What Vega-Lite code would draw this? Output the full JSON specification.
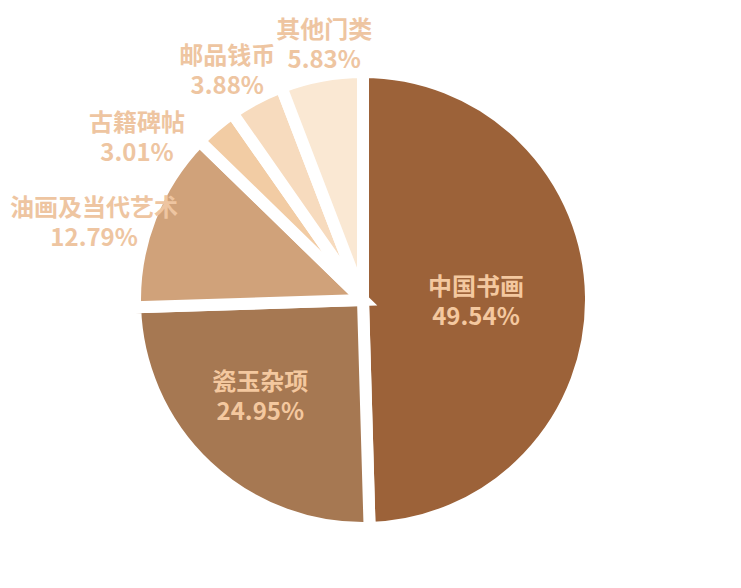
{
  "$schema": "https://vega.github.io/schema/vega-lite/v6.json",
  "width": 726,
  "height": 570,
  "autosize": "none",
  "padding": {"left": 0, "top": 15, "right": 15, "bottom": 3},
  "background": "white",
  "config": {"view": {"stroke": null}, "text": {"font": "Noto Sans CJK SC", "fontWeight": "bold", "fontSize": 24, "lineHeight": 30, "lineBreak": "\n", "align": "center", "baseline": "middle"}},
  "data": {
    "values": [
      {"category": "中国书画", "share": 49.54},
      {"category": "瓷玉杂项", "share": 24.95},
      {"category": "油画及当代艺术", "share": 12.79},
      {"category": "古籍碑帖", "share": 3.01},
      {"category": "邮品钱币", "share": 3.88},
      {"category": "其他门类", "share": 5.83}
    ]
  },
  "transform": [
    {"window": [{"op": "row_number", "as": "rank"}]},
    {"stack": "share", "groupby": [], "sort": [{"field": "rank", "order": "ascending"}], "as": ["s0", "s1"]},
    {"calculate": "(datum.s0 + datum.s1) / 2", "as": "mid"},
    {"calculate": "datum.category + '\\n' + format(datum.share, '.2f') + '%'", "as": "label"}
  ],
  "layer": [
    {
      "mark": {"type": "arc", "outerRadius": 228, "stroke": "white", "strokeWidth": 12},
      "encoding": {
        "theta": {"field": "s0", "type": "quantitative", "scale": {"domain": [0, 100]}},
        "theta2": {"field": "s1"},
        "color": {
          "field": "category",
          "type": "nominal",
          "scale": {
            "domain": ["中国书画", "瓷玉杂项", "油画及当代艺术", "古籍碑帖", "邮品钱币", "其他门类"],
            "range": ["#9C6239", "#A67852", "#D0A27A", "#F2CCA4", "#F7DBBE", "#FAE8D3"]
          },
          "legend": null
        }
      }
    },
    {
      "transform": [{"filter": "indexof(['中国书画','瓷玉杂项'], datum.category) >= 0"}],
      "mark": {"type": "text", "radius": 128, "dx": -15, "dy": -10, "color": "#F4C89F"},
      "encoding": {"theta": {"field": "mid", "type": "quantitative"}, "text": {"field": "label"}}
    },
    {
      "transform": [{"filter": "datum.category == '油画及当代艺术'"}],
      "mark": {"type": "text", "radius": 268, "dx": -19, "dy": 6, "color": "#EEC5A1"},
      "encoding": {"theta": {"field": "mid", "type": "quantitative"}, "text": {"field": "label"}}
    },
    {
      "transform": [{"filter": "datum.category == '古籍碑帖'"}],
      "mark": {"type": "text", "radius": 230, "dx": -77, "dy": -1, "color": "#EEC5A1"},
      "encoding": {"theta": {"field": "mid", "type": "quantitative"}, "text": {"field": "label"}}
    },
    {
      "transform": [{"filter": "datum.category == '邮品钱币'"}],
      "mark": {"type": "text", "radius": 268, "dx": -10, "dy": -6, "color": "#EEC5A1"},
      "encoding": {"theta": {"field": "mid", "type": "quantitative"}, "text": {"field": "label"}}
    },
    {
      "transform": [{"filter": "datum.category == '其他门类'"}],
      "mark": {"type": "text", "radius": 268, "dx": 10, "dy": -5, "color": "#EEC5A1"},
      "encoding": {"theta": {"field": "mid", "type": "quantitative"}, "text": {"field": "label"}}
    }
  ]
}
